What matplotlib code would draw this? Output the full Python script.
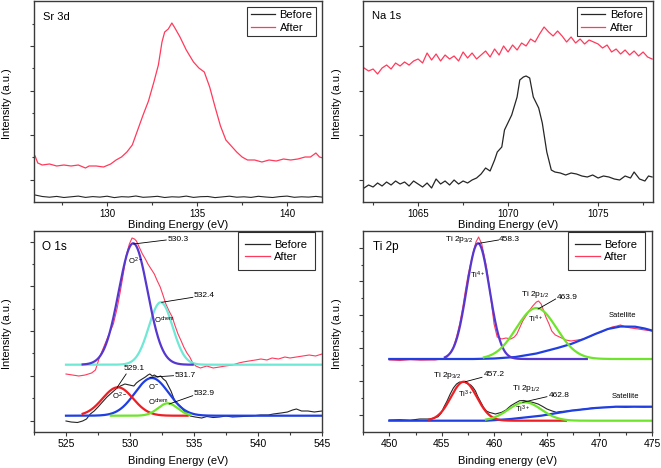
import numpy as np
import matplotlib
matplotlib.use("Agg")
import matplotlib.pyplot as plt
from matplotlib.lines import Line2D

plt.rcParams['font.family'] = ['Liberation Sans', 'DejaVu Sans']
plt.rcParams['mathtext.default'] = 'regular'

# ---------------- data (intensity in arbitrary units) ----------------
# Sr 3d
sr_before = [7.0, 5.5, 4.8, 5.6, 4.5, 5.2, 5.9, 4.6, 5.4, 4.9, 5.8, 4.4, 5.3, 5.0, 6.0, 4.7,
             5.1, 5.7, 4.5, 5.2, 4.9, 5.9, 4.6, 5.3, 5.5, 4.4, 5.1, 5.8, 4.8, 5.2, 4.6, 5.7,
             5.0, 4.5, 5.4, 5.9, 4.7, 5.2, 4.9, 5.6, 4.8]
sr_after_E = [126.0, 126.15, 126.4, 126.8, 127.2, 127.6, 128.0, 128.4, 128.8, 129.0, 129.4,
              129.8, 130.2, 130.5, 130.8, 131.1, 131.4, 131.7, 132.0, 132.3, 132.6, 132.85,
              133.05, 133.2, 133.4, 133.6, 133.8, 134.05, 134.4, 134.8, 135.1, 135.4, 135.7,
              136.0, 136.3, 136.6, 136.9, 137.2, 137.5, 137.8, 138.2, 138.6, 139.0, 139.4,
              139.8, 140.2, 140.6, 141.0, 141.3, 141.6, 141.8, 142.0]
sr_after = [46, 39, 37, 38, 36, 37, 36, 37, 34, 36, 36, 35, 38, 42, 45, 50, 57, 72, 87, 101,
            120, 137, 160, 170, 173, 179, 173, 165, 152, 140, 134, 130, 115, 95, 76, 62, 56,
            50, 45, 42, 42, 40, 42, 41, 43, 42, 43, 45, 45, 49, 45, 44]

# Na 1s
na_after = [134, 131, 133, 128, 134, 137, 133, 139, 136, 140, 137, 141, 143, 139, 149, 142,
            148, 141, 147, 143, 146, 141, 150, 144, 149, 143, 147, 151, 145, 153, 147, 156,
            150, 157, 152, 159, 156, 163, 160, 168, 175, 170, 166, 171, 166, 160, 165, 159,
            163, 158, 162, 160, 158, 154, 157, 150, 153, 148, 152, 147, 151, 146, 150, 145, 143]
na_before_E = [1062.0, 1062.25, 1062.5, 1062.75, 1063.0, 1063.25, 1063.5, 1063.75, 1064.0,
               1064.25, 1064.5, 1064.75, 1065.0, 1065.25, 1065.5, 1065.75, 1066.0, 1066.25,
               1066.5, 1066.75, 1067.0, 1067.25, 1067.5, 1067.75, 1068.0, 1068.25, 1068.5,
               1068.75, 1069.0, 1069.25, 1069.4, 1069.65, 1069.8, 1070.2, 1070.5, 1070.65,
               1070.85, 1071.0, 1071.2, 1071.4, 1071.7, 1071.9, 1072.15, 1072.4, 1072.6,
               1072.9, 1073.2, 1073.5, 1073.8, 1074.1, 1074.4, 1074.7, 1075.0, 1075.3, 1075.6,
               1075.9, 1076.2, 1076.5, 1076.8, 1077.0, 1077.3, 1077.6, 1077.8, 1078.0]
na_before = [14, 17, 15, 19, 16, 20, 17, 21, 18, 20, 16, 21, 18, 15, 19, 14, 23, 18, 21, 17,
             22, 18, 21, 19, 22, 24, 28, 34, 31, 42, 50, 55, 72, 87, 105, 122, 125, 126, 124,
             105, 94, 79, 50, 32, 30, 29, 27, 29, 28, 26, 25, 27, 24, 26, 25, 23, 22, 26, 24,
             30, 23, 21, 26, 25]

# O 1s
o_after_E = [525.0, 525.5, 526.0, 526.5, 527.0, 527.3, 527.6, 527.95, 528.3, 528.7, 529.0,
             529.25, 529.5, 529.7, 529.95, 530.16, 530.35, 530.5, 530.75, 530.97, 531.2,
             531.4, 531.65, 531.9, 532.1, 532.36, 532.6, 532.8, 533.05, 533.3, 533.5, 533.75,
             534.0, 534.2, 534.45, 534.67, 534.9, 535.14, 535.5, 536.0, 536.5, 537.0, 537.45,
             538.0, 538.5, 538.84, 539.3, 539.8, 540.23, 540.7, 541.1, 541.6, 542.1, 542.5,
             543.0, 543.5, 544.0, 544.5, 545.0]
o_after = [58, 57, 56, 57, 59, 62, 74, 85, 96, 108, 124, 141, 160, 176, 188, 194, 193, 191,
           184, 178, 173, 168, 163, 158, 152, 145, 136, 128, 121, 115, 107, 98, 91, 85, 79,
           75, 69, 66, 64, 66, 64, 65, 66, 67, 69, 70, 71, 72, 73, 72, 74, 73, 75, 74, 75,
           76, 77, 76, 78]
o_before_E = [525.0, 525.4, 525.9, 526.3, 526.6, 526.9, 527.2, 527.5, 527.85, 528.2, 528.55,
              528.9, 529.25, 529.6, 529.95, 530.3, 530.5, 530.7, 530.95, 531.2, 531.4, 531.55,
              531.75, 531.9, 532.15, 532.4, 532.6, 532.8, 533.0, 533.2, 533.35, 533.5, 533.75,
              534.0, 534.3, 534.7, 535.1, 535.6, 536.0, 536.5, 537.0, 537.5, 538.0, 538.8,
              539.5, 540.2, 540.8, 541.2, 541.8, 542.3, 542.7, 543.0, 543.4, 543.9, 544.4, 545.0]
o_before = [11, 10, 9.5, 11, 13, 18, 21, 25, 30, 35, 39, 43, 46, 48, 47, 46, 49, 51, 53, 55,
            57, 58, 56, 57, 55, 56, 53, 51, 46, 41, 36, 31, 28, 25, 20, 16, 15, 14, 15.5,
            14.5, 15, 16, 15, 15.5, 16, 17, 17, 18, 19, 20, 22, 23, 21, 21, 20, 21]
# O 1s fitted components: (centre eV, height, FWHM eV, start eV, end eV)
o_after_base = 67.3
o_after_fits = {'O2-': (530.25, 121.4, 2.65, 526.3, 534.9),
                'Ochem': (532.4, 62.4, 2.2, 525.0, 545.0)}
o_before_base = 16.3
o_before_fits = {'O2-': (529.05, 28.4, 2.8, 526.3, 534.5),
                 'O-': (531.7, 37.7, 3.1, 525.0, 545.0),
                 'Ochem': (532.95, 12.4, 1.8, 528.5, 534.7)}

# Ti 2p
ti_after_E = [450.0, 451.0, 452.0, 453.0, 454.0, 454.35, 455.0, 455.5, 455.8, 456.1, 456.4,
              456.7, 457.0, 457.24, 457.5, 457.8, 458.05, 458.25, 458.5, 458.8, 459.0, 459.25,
              459.5, 459.7, 459.97, 460.27, 460.7, 461.1, 461.57, 461.9, 462.14, 462.4, 462.7,
              463.0, 463.3, 463.65, 464.0, 464.2, 464.45, 464.7, 464.9, 465.2, 465.46, 465.8,
              466.2, 466.8, 467.3, 467.9, 468.5, 469.0, 469.6, 470.2, 470.8, 471.2, 471.65,
              472.0, 472.5, 473.0, 473.7, 474.3, 475.0]
ti_after = [72, 71.5, 72.3, 71.8, 72, 72, 73, 75, 79, 85, 95, 108, 125, 141, 157, 171, 182,
            190, 195, 188, 178, 165, 147, 131, 108, 95, 93, 94, 93, 95, 98, 104, 111, 116, 121,
            126, 130, 131, 128, 121, 115, 108, 101, 97, 95, 92, 91, 92, 93, 95, 98, 100, 103,
            105, 106, 107, 105, 104, 103, 102, 101]
ti_before_E = [450, 451, 452, 452.9, 453.8, 454.3, 454.65, 454.95, 455.2, 455.5, 455.8, 456.1,
               456.4, 456.7, 456.95, 457.2, 457.5, 457.75, 457.96, 458.2, 458.4, 458.7, 458.97,
               459.25, 459.5, 460.1, 460.7, 461.1, 461.57, 462.0, 462.4, 462.8, 463.3, 463.7,
               464.16, 464.6, 465.0, 465.5, 465.9, 466.3, 466.76, 467.3, 467.9, 468.6, 469.35,
               470.1, 470.8, 471.5, 472.5, 473.3, 474.2, 475]
ti_before = [12, 12.3, 11.8, 13, 13, 14, 15.3, 19, 25, 31, 38, 44, 48, 50, 49.7, 49.5, 48, 47,
             44.7, 41, 36, 30, 24.7, 21, 19.7, 18, 19.7, 22, 26.3, 29, 31.3, 31.5, 30.3, 29.5,
             28, 25.5, 23, 21, 19.7, 20.5, 20.7, 21.5, 22, 23, 24, 24.5, 24.7, 25.5, 24.7,
             25.5, 25, 25.3]
ti_after_base = 73.0
ti_after_fits = {'Ti4+ 2p3/2': (458.45, 115.7, 2.56, 455.3, 468.8),
                 'Ti4+ 2p1/2': (464.0, 51.0, 4.5, 459.0, 475.0)}
ti_after_sat_E = [450, 458, 460, 462, 464, 466, 467.3, 468.5, 469.6, 470.8, 472, 473.4, 474.3, 475]
ti_after_sat = [73, 73, 73.5, 75, 78.5, 84, 88, 93, 98, 103, 105.5, 105.3, 103.5, 101.5]
ti_before_base = 11.3
ti_before_fits = {'Ti3+ 2p3/2': (457.1, 39.0, 2.9, 453.8, 466.8),
                  'Ti3+ 2p1/2': (462.9, 18.4, 3.7, 459.2, 475.0)}
ti_before_sat_E = [450, 459.25, 461.57, 464.45, 467.3, 469.6, 471.6, 475]
ti_before_sat = [11.3, 11.3, 13, 16.3, 21.3, 24, 25.3, 25.3]

# ---------------- styling ----------------
C_BEFORE = '#262626'
C_AFTER = '#ff3a5c'
C_PURPLE = '#5637cf'
C_CYAN = '#6fe8d6'
C_RED = '#ee1f24'
C_BLUE = '#1f3fe3'
C_GREEN = '#6ee52a'
SPINE = '#3a3a3a'


def gauss(p, base):
    c, a, w, e0, e1 = p
    x = np.linspace(e0, e1, 400)
    return x, base + a * np.exp(-4 * np.log(2) * (x - c) ** 2 / w ** 2)


def pos(l, t, r, b):
    return [l / 661, 1 - b / 468, (r - l) / 661, (b - t) / 468]


fig = plt.figure(figsize=(6.61, 4.68), dpi=100)


def setup(ax, xlim, xmaj, ymaj, ymin, label, xlabel, tfs, lab_y, ylab_x, title_xy, title_fs):
    ax.set_xlim(*xlim)
    ax.set_ylim(0, 201)
    ax.set_xticks(xmaj)
    ax.set_xticklabels([str(v) for v in xmaj])
    ax.set_xticks(np.arange(xmaj[0] - 2.5, xlim[1] + 0.01, 5.0), minor=True)
    ax.set_yticks(ymaj)
    ax.set_yticklabels([])
    ax.set_yticks(ymin, minor=True)
    for s in ax.spines.values():
        s.set_color(SPINE)
        s.set_linewidth(1.0)
    ax.tick_params(which='major', direction='out', length=3, width=0.8, color=SPINE,
                   labelsize=tfs, pad=2)
    ax.tick_params(which='minor', direction='out', length=1.8, width=0.8, color=SPINE)
    ax.set_xlabel(xlabel, fontsize=8)
    ax.xaxis.set_label_coords(0.5, lab_y)
    ax.xaxis.label.set_va('center')
    ax.set_ylabel('Intensity (a.u.)', fontsize=8)
    ax.yaxis.set_label_coords(ylab_x, 0.49)
    ax.yaxis.label.set_va('center')
    ax.text(title_xy[0], title_xy[1], label, transform=ax.transAxes, fontsize=title_fs,
            ha='left', va='center')


def legend(ax, anchor, bp):
    h = [Line2D([], [], color=C_BEFORE, lw=0.9), Line2D([], [], color=C_AFTER, lw=0.9)]
    leg = ax.legend(h, ['Before', 'After'], loc='upper right', bbox_to_anchor=anchor,
                    fontsize=8, frameon=True, fancybox=False, edgecolor='black',
                    borderpad=bp, handlelength=2.2, handletextpad=0.4, labelspacing=0.2,
                    borderaxespad=0)
    leg.get_frame().set_linewidth(0.8)


def note(ax, txt, x, y, fs=6, ha='left'):
    ax.text(x, y, txt, fontsize=fs, ha=ha, va='center')


def leader(ax, x1, y1, x2, y2):
    ax.plot([x1, x2], [y1, y2], color='black', lw=0.6)


# ---- Sr 3d
ax1 = fig.add_axes(pos(34, 1, 322, 202))
ax1.plot(np.linspace(126, 142, len(sr_before)), sr_before, color=C_BEFORE, lw=0.8)
ax1.plot(sr_after_E, sr_after, color=C_AFTER, lw=0.9)
setup(ax1, (125.94, 141.94), [130, 135, 140], [22.3, 66.9, 111.5, 156.1],
      [44.6, 89.2, 133.8, 178.4], 'Sr 3d', 'Binding Energy (eV)', 7, -0.114, -0.094,
      (0.031, 0.92), 8)
legend(ax1, (0.979, 0.970), 0.3)

# ---- Na 1s
ax2 = fig.add_axes(pos(363, 1, 653, 202))
ax2.plot(np.linspace(1062, 1078, len(na_after)), na_after, color=C_AFTER, lw=0.9)
ax2.plot(na_before_E, na_before, color=C_BEFORE, lw=0.9)
setup(ax2, (1061.94, 1078.05), [1065, 1070, 1075], [22.3, 66.9, 111.5, 156.1], [],
      'Na 1s', 'Binding Energy (eV)', 7, -0.114, -0.089, (0.030, 0.925), 8)
legend(ax2, (0.976, 0.970), 0.3)

# ---- O 1s
ax3 = fig.add_axes(pos(34, 231, 322, 432))
ax3.plot(o_after_E, o_after, color=C_AFTER, lw=0.8)
ax3.plot(o_before_E, o_before, color=C_BEFORE, lw=0.8)
x, y = gauss(o_after_fits['Ochem'], o_after_base)
ax3.plot(x, y, color=C_CYAN, lw=1.6)
x, y = gauss(o_after_fits['O2-'], o_after_base)
ax3.plot(x, y, color=C_PURPLE, lw=1.6)
x, y = gauss(o_before_fits['O-'], o_before_base)
ax3.plot(x, y, color=C_BLUE, lw=1.6)
x, y = gauss(o_before_fits['O2-'], o_before_base)
ax3.plot(x, y, color=C_RED, lw=1.6)
x, y = gauss(o_before_fits['Ochem'], o_before_base)
ax3.plot(x, y, color=C_GREEN, lw=1.6)
setup(ax3, (525, 545), [525, 530, 535, 540, 545], [11, 56, 101, 146, 190],
      [34, 79, 123, 168], 'O 1s', 'Binding Energy (eV)', 7.5, -0.142, -0.094,
      (0.027, 0.922), 8.5)
legend(ax3, (0.976, 0.995), 0.7)
leader(ax3, 530.28, 188, 532.83, 192)
note(ax3, '530.3', 532.92, 192)
note(ax3, 'O$^{2-}$', 529.85, 171, fs=5.5)
leader(ax3, 532.48, 129.7, 534.91, 134.7)
note(ax3, '532.4', 535.0, 136.3)
note(ax3, 'O$^{chem}$', 531.85, 112, fs=5.5)
leader(ax3, 529.0, 44.7, 529.7, 58)
note(ax3, '529.1', 529.53, 63)
note(ax3, 'O$^{2-}$', 528.6, 35.3, fs=5.5)
leader(ax3, 531.55, 54.7, 533.4, 56.3)
note(ax3, '531.7', 533.45, 56.3)
note(ax3, 'O$^{-}$', 531.4, 45.3, fs=5.5)
leader(ax3, 533.06, 28, 534.9, 36.3)
note(ax3, '532.9', 534.95, 38.7)
note(ax3, 'O$^{chem}$', 531.4, 29.7, fs=5.5)

# ---- Ti 2p
ax4 = fig.add_axes(pos(363, 231, 652, 432))
ax4.plot(ti_after_E, ti_after, color=C_AFTER, lw=0.8)
ax4.plot(ti_before_E, ti_before, color=C_BEFORE, lw=0.8)
ax4.plot(ti_after_sat_E, ti_after_sat, color=C_BLUE, lw=1.6)
x, y = gauss(ti_after_fits['Ti4+ 2p3/2'], ti_after_base)
ax4.plot(x, y, color=C_PURPLE, lw=1.6)
x, y = gauss(ti_after_fits['Ti4+ 2p1/2'], ti_after_base)
ax4.plot(x, y, color=C_GREEN, lw=1.6)
ax4.plot(ti_before_sat_E, ti_before_sat, color=C_BLUE, lw=1.6)
x, y = gauss(ti_before_fits['Ti3+ 2p3/2'], ti_before_base)
ax4.plot(x, y, color=C_RED, lw=1.6)
x, y = gauss(ti_before_fits['Ti3+ 2p1/2'], ti_before_base)
ax4.plot(x, y, color=C_GREEN, lw=1.6)
setup(ax4, (450, 475), [450, 455, 460, 465, 470, 475], [17, 51, 84, 117, 151, 184],
      [34, 67, 101, 134, 167], 'Ti 2p', 'Binding energy (eV)', 7.5, -0.142, -0.089,
      (0.034, 0.919), 8.5)
legend(ax4, (0.976, 0.995), 0.7)
note(ax4, 'Ti 2p$_{3/2}$', 456.66, 192, ha='center')
leader(ax4, 458.54, 188.7, 460.4, 192)
note(ax4, '458.3', 460.45, 192)
note(ax4, 'Ti$^{4+}$', 458.4, 156.3, fs=5.5, ha='center')
note(ax4, 'Ti 2p$_{1/2}$', 463.87, 138, ha='center')
leader(ax4, 464.16, 123, 465.83, 133)
note(ax4, '463.9', 465.9, 134.7)
note(ax4, 'Ti$^{4+}$', 463.95, 113, fs=5.5, ha='center')
note(ax4, 'Satellite', 472.23, 116.3, fs=5.5, ha='center')
note(ax4, 'Ti 2p$_{3/2}$', 455.5, 56.3, ha='center')
leader(ax4, 457.24, 50.3, 458.82, 54.7)
note(ax4, '457.2', 458.97, 58)
note(ax4, 'Ti$^{3+}$', 457.24, 37.3, fs=5.5, ha='center')
note(ax4, 'Ti 2p$_{1/2}$', 463.0, 44, ha='center')
leader(ax4, 462.7, 29.7, 465.0, 35.3)
note(ax4, '462.8', 465.16, 36.3)
note(ax4, 'Ti$^{3+}$', 462.7, 23, fs=5.5, ha='center')
note(ax4, 'Satellite', 472.5, 35.7, fs=5.5, ha='center')

fig.savefig('out.png', dpi=100)
